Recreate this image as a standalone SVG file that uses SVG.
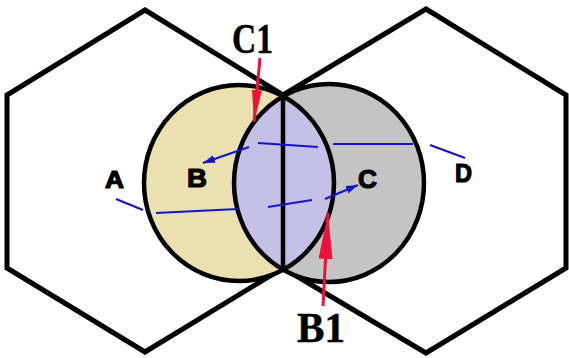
<svg xmlns="http://www.w3.org/2000/svg" width="569" height="358" viewBox="0 0 569 358">
<defs>
<style>
.hex{fill:none;stroke:#000;stroke-width:5;stroke-linejoin:miter}
.circ{stroke:#000;stroke-width:4.5}
.blue{stroke:#1414c8;stroke-width:2.2;fill:none}
.red{stroke:#f0103c;stroke-width:3;fill:none}
.lbl{font-family:"Liberation Sans",Arial,sans-serif;font-weight:bold;font-size:26px;fill:#000;stroke:#000;stroke-width:1.2;stroke-linejoin:round}
.big{font-family:"Liberation Serif","Times New Roman",serif;font-weight:bold;font-size:43px;fill:#000;stroke:#000;stroke-width:0.5}
</style>
<clipPath id="clipL"><ellipse cx="239" cy="183" rx="95" ry="98"/></clipPath>
<marker id="ab" viewBox="0 0 12 8" refX="12" refY="4" markerWidth="12" markerHeight="8" markerUnits="userSpaceOnUse" orient="auto"><path d="M0,0 L12,4 L0,8 Z" fill="#1414c8"/></marker>
<marker id="ar1" viewBox="0 0 32 10" refX="32" refY="5" markerWidth="32" markerHeight="10" markerUnits="userSpaceOnUse" orient="auto"><path d="M0,0 L32,5 L0,10 Z" fill="#f0103c"/></marker>
<marker id="ar2" viewBox="0 0 46 14" refX="46" refY="7" markerWidth="46" markerHeight="14" markerUnits="userSpaceOnUse" orient="auto"><path d="M0,0 L46,7 L0,14 Z" fill="#f0103c"/></marker>
</defs>
<rect width="569" height="358" fill="#fff"/>
<g id="hex-left"><polygon class="hex" points="145,10 283,95 283,268 145,352 7,268 7,95"/></g>
<g id="hex-right"><polygon class="hex" points="426,9 566,95 566,268 426,353 283,268 283,95"/></g>
<g id="circle-left"><ellipse cx="239" cy="183" rx="95" ry="98" fill="#ede0b0"/></g>
<g id="circle-right"><ellipse cx="329" cy="183" rx="95" ry="99" fill="#c4c4c4"/></g>
<g id="lens"><ellipse cx="329" cy="183" rx="95" ry="99" fill="#c5c0e6" clip-path="url(#clipL)"/></g>
<g id="outlines">
<ellipse class="circ" cx="239" cy="183" rx="95" ry="98" fill="none"/>
<ellipse class="circ" cx="329" cy="183" rx="95" ry="99" fill="none"/>
<line x1="283" y1="95" x2="283" y2="268" stroke="#000" stroke-width="4.5"/>
</g>
<g id="connectors">
<line class="blue" x1="116" y1="199" x2="143" y2="210"/>
<line class="blue" x1="156" y1="213" x2="238" y2="209"/>
<line class="blue" x1="268" y1="207" x2="312" y2="200"/>
<line class="blue" x1="325" y1="199" x2="358" y2="185" marker-end="url(#ab)"/>
<line class="blue" x1="430" y1="145" x2="465" y2="158"/>
<line class="blue" x1="333" y1="144" x2="413" y2="144"/>
<line class="blue" x1="258" y1="143" x2="318" y2="147"/>
<line class="blue" x1="249" y1="147" x2="203" y2="163" marker-end="url(#ab)"/>
<line class="red" x1="260" y1="58" x2="254" y2="122" marker-end="url(#ar1)"/>
<line class="red" x1="323" y1="306" x2="328" y2="213" marker-end="url(#ar2)"/>
</g>
<g id="labels">
<text class="lbl" x="105" y="188" textLength="19" lengthAdjust="spacingAndGlyphs" style="font-size:23px">A</text>
<text class="lbl" x="187" y="187" textLength="20" lengthAdjust="spacingAndGlyphs">B</text>
<text class="lbl" x="358" y="188" textLength="19" lengthAdjust="spacingAndGlyphs" style="font-size:25px">C</text>
<text class="lbl" x="455" y="182" textLength="17" lengthAdjust="spacingAndGlyphs">D</text>
<text class="big" x="232" y="53" textLength="41" lengthAdjust="spacingAndGlyphs">C1</text>
<text class="big" x="297" y="342" textLength="48" lengthAdjust="spacingAndGlyphs">B1</text>
</g>
</svg>
